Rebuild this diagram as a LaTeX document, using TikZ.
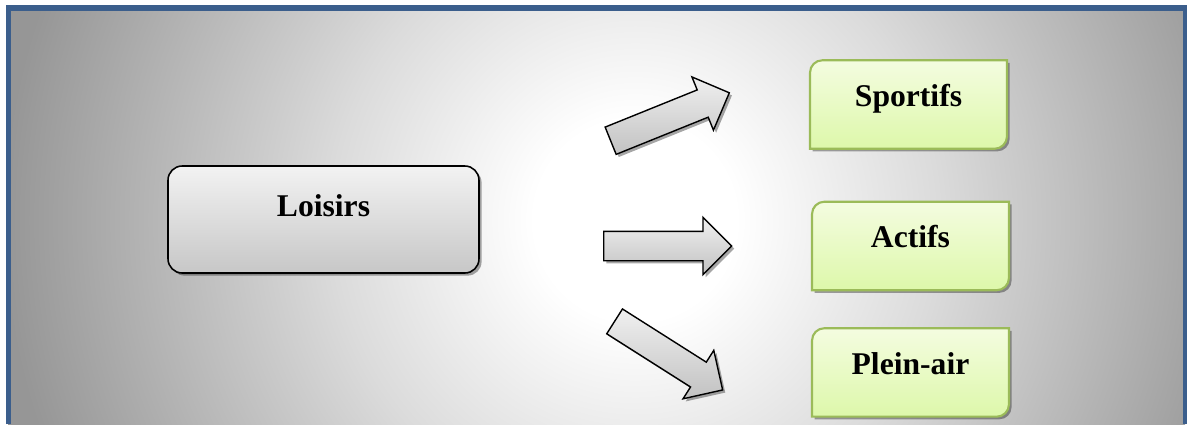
\documentclass[tikz,border=0pt]{standalone}
\usepackage{fontspec}
\setmainfont{Liberation Serif}
\usetikzlibrary{positioning,calc,shapes.arrows,shadows,backgrounds}

\definecolor{framebl}{HTML}{3B5E8C}
\definecolor{leafline}{HTML}{9BBB59}
\definecolor{leaftop}{HTML}{F4FCE0}
\definecolor{leafbot}{HTML}{DDF8AA}
\pgfdeclareradialshading{bgglow}{\pgfpoint{0bp}{0bp}}{color(0bp)=(white); color(4bp)=(white); color(12bp)=(black!14); color(25bp)=(black!41); color(50bp)=(black!41)}

\begin{document}
\begin{tikzpicture}[
  x=0.02cm, y=0.02cm,
  every node/.style={font=\fontsize{18}{22}\selectfont\bfseries},
  soft/.style={drop shadow={shadow xshift=1.5pt, shadow yshift=-1.5pt, opacity=0.35, fill=black}},
  rootbox/.style={draw, line width=0.9pt, rounded corners=8pt, minimum width=6.22cm,
                  minimum height=2.14cm, top color=black!5, bottom color=black!22, soft,
                  text height=12pt, text depth=15.5pt},
  leaf/.style={minimum width=3.94cm, minimum height=1.77cm, inner sep=0pt, outer sep=0pt,
               text height=12pt, text depth=10pt},
  leafbox/.style={draw=leafline, line width=1.2pt, top color=leaftop, bottom color=leafbot, soft},
  blockarr/.style={single arrow, draw, line width=0.8pt, inner sep=0pt, inner ysep=0.28cm,
                   single arrow head extend=0.28cm, minimum height=2.56cm, minimum width=1.12cm,
                   top color=black!6, bottom color=black!24, soft, anchor=tail},
]
  \useasboundingbox (0,0) rectangle (1187,424);

  % background and frame
  \begin{scope}[on background layer]
    \clip (8,0) rectangle (1185,416);
    \shade[shading=bgglow] (635,204) ++(-630,-630) rectangle ++(1260,1260);
  \end{scope}
  \draw[framebl, line width=3.2pt] (8.5,0) -- (8.5,416) -- (1186,416) -- (1186,0);

  \node[rootbox] (loisirs) at (323.5,204.5) {Loisirs};
  \node[leaf] (sportifs) at (908.5,319.5) {Sportifs};
  \node[leaf, below=1.06cm of sportifs, xshift=0.04cm] (actifs) {Actifs};
  \node[leaf, below=0.76cm of actifs] (pleinair) {Plein-air};

  \begin{scope}[on background layer]
    \foreach \n in {sportifs,actifs,pleinair}
      \path[leafbox] (\n.south west) -- ($(\n.north west)+(0,-7pt)$)
        arc[start angle=180, end angle=90, radius=7pt] -- (\n.north east)
        -- ($(\n.south east)+(0,7pt)$) arc[start angle=0, end angle=-90, radius=7pt] -- cycle;
  \end{scope}

  \node[blockarr, rotate=22] (toSport) at (610,283) {};
  \node[blockarr] (toAct) at (603,178) {};
  \node[blockarr, rotate=-32.4] (toPlein) at (614,103) {};
\end{tikzpicture}
\end{document}
